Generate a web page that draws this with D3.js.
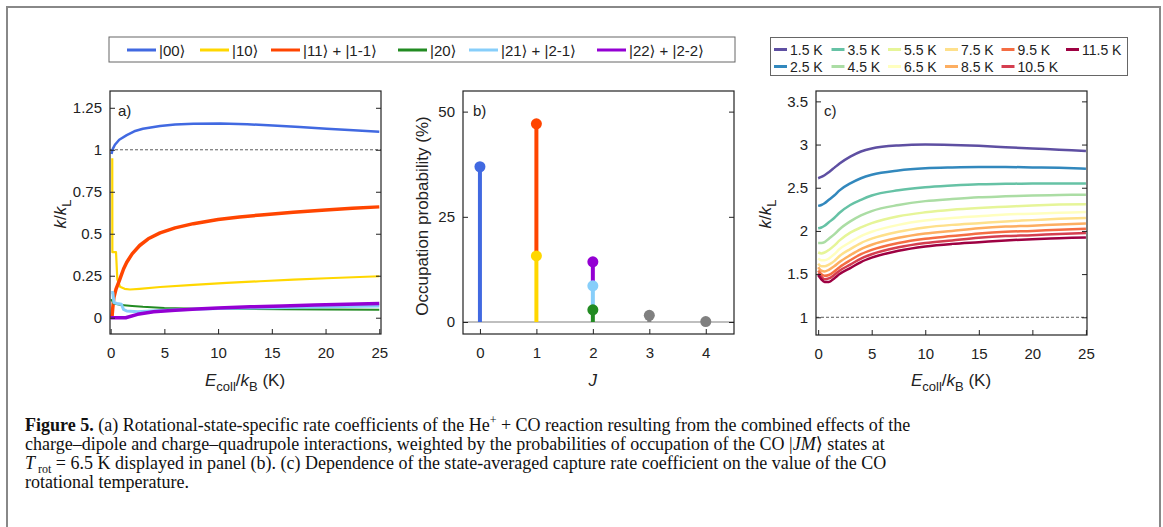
<!DOCTYPE html>
<html>
<head>
<meta charset="utf-8">
<script src="https://cdn.jsdelivr.net/npm/d3@7"></script>
<style>
  body { margin: 0; background: #fff; }
  svg text { font-family: "Liberation Sans", Arial, "DejaVu Sans", sans-serif; fill: #222; }
  .cap text { font-family: "Liberation Serif", "DejaVu Serif", serif; fill: #111; }
</style>
</head>
<body>
<svg id="fig" width="1163" height="527"></svg>
<script>
// ---- panel a: state-specific rate coefficients k/kL vs Ecoll/kB ----
var aStates = ['|00⟩', '|10⟩', '|11⟩ + |1-1⟩', '|20⟩', '|21⟩ + |2-1⟩', '|22⟩ + |2-2⟩'];
var aX00 = [0.08, 0.2, 0.4, 0.8, 1.5, 2.2, 3.0, 4.6, 6.0, 7.7, 10.2, 12.7, 15.1, 17.6, 20.1, 22.6, 25];
var aY00 = [0.975, 1.005, 1.03, 1.06, 1.087, 1.11, 1.125, 1.142, 1.15, 1.155, 1.156, 1.152, 1.145, 1.135, 1.125, 1.117, 1.108];
var aX10 = [0.15, 0.16, 0.5, 0.62, 0.87, 1.3, 1.8, 2.7, 4.6, 7.7, 10.8, 13.9, 17, 20.1, 25];
var aY10 = [0.95, 0.39, 0.39, 0.23, 0.185, 0.172, 0.168, 0.172, 0.183, 0.196, 0.207, 0.217, 0.227, 0.235, 0.247];
var aX11 = [0.12, 0.2, 0.3, 0.5, 0.8, 1.2, 1.5, 2.0, 2.7, 3.5, 4.6, 6.0, 7.7, 10, 12, 14, 17, 20, 22.5, 25];
var aY11 = [0, 0.06, 0.12, 0.17, 0.22, 0.29, 0.33, 0.38, 0.43, 0.47, 0.505, 0.535, 0.56, 0.585, 0.6, 0.612, 0.628, 0.642, 0.652, 0.66];
var aX20 = [0.05, 0.3, 1, 2, 3, 5, 8, 12, 16, 20, 25];
var aY20 = [0.11, 0.085, 0.075, 0.07, 0.065, 0.058, 0.054, 0.052, 0.05, 0.049, 0.048];
var aX21 = [0.05, 0.2, 0.3, 0.6, 1.0, 1.2, 1.5, 2.5, 5, 10, 15, 20, 25];
var aY21 = [0.15, 0.15, 0.09, 0.085, 0.08, 0.05, 0.04, 0.035, 0.045, 0.055, 0.06, 0.065, 0.07];
var aX22 = [0, 0.6, 1.4, 2.5, 4, 6, 8, 10, 13, 16, 19, 22, 25];
var aY22 = [0, 0, 0, 0.02, 0.035, 0.045, 0.052, 0.058, 0.065, 0.07, 0.075, 0.08, 0.085];
var aXTicks = [0, 5, 10, 15, 20, 25];
var aYTicks = [0, 0.25, 0.5, 0.75, 1, 1.25];

// ---- panel b: occupation probability (%) of |JM> states at 6.5 K, stacked per J ----
var bLabels = ['|00⟩', '|10⟩', '|11⟩ + |1-1⟩', '|20⟩', '|21⟩ + |2-1⟩', '|22⟩ + |2-2⟩', 'J=3', 'J=4'];
var bJ = [0, 1, 1, 2, 2, 2, 3, 4];
var bProb = [36.9, 15.7, 31.4, 2.9, 5.7, 5.7, 1.6, 0.1];
var bXTicks = [0, 1, 2, 3, 4];
var bYTicks = [0, 25, 50];

// ---- panel c: state-averaged k/kL for rotational temperatures ----
var cTemps = ['1.5 K', '2.5 K', '3.5 K', '4.5 K', '5.5 K', '6.5 K', '7.5 K', '8.5 K', '9.5 K', '10.5 K', '11.5 K'];
var cX = [0, 0.3, 0.6, 1, 1.5, 2, 3, 4, 5, 7.5, 10, 12.5, 15, 17.5, 20, 22.5, 25];
var cY15 = [2.61, 2.625, 2.645, 2.68, 2.73, 2.78, 2.86, 2.92, 2.955, 2.99, 3.0, 2.995, 2.985, 2.97, 2.955, 2.94, 2.925];
var cY25 = [2.29, 2.3, 2.32, 2.36, 2.41, 2.47, 2.55, 2.61, 2.65, 2.70, 2.725, 2.735, 2.74, 2.74, 2.735, 2.73, 2.72];
var cY35 = [2.03, 2.04, 2.06, 2.1, 2.15, 2.21, 2.3, 2.36, 2.41, 2.47, 2.505, 2.525, 2.54, 2.545, 2.55, 2.55, 2.55];
var cY45 = [1.86, 1.86, 1.87, 1.91, 1.96, 2.02, 2.11, 2.18, 2.23, 2.30, 2.345, 2.37, 2.39, 2.40, 2.41, 2.415, 2.42];
var cY55 = [1.75, 1.74, 1.75, 1.78, 1.83, 1.89, 1.98, 2.04, 2.09, 2.17, 2.215, 2.245, 2.265, 2.28, 2.295, 2.305, 2.31];
var cY65 = [1.68, 1.66, 1.66, 1.68, 1.73, 1.79, 1.87, 1.94, 1.99, 2.07, 2.12, 2.15, 2.17, 2.19, 2.20, 2.21, 2.22];
var cY75 = [1.62, 1.59, 1.59, 1.61, 1.65, 1.71, 1.79, 1.86, 1.91, 1.99, 2.04, 2.07, 2.09, 2.11, 2.125, 2.14, 2.15];
var cY85 = [1.58, 1.54, 1.53, 1.55, 1.59, 1.64, 1.72, 1.79, 1.84, 1.92, 1.97, 2.00, 2.03, 2.05, 2.06, 2.075, 2.085];
var cY95 = [1.54, 1.50, 1.48, 1.49, 1.53, 1.58, 1.66, 1.73, 1.78, 1.86, 1.91, 1.94, 1.97, 1.99, 2.00, 2.015, 2.025];
var cY105 = [1.51, 1.47, 1.44, 1.45, 1.49, 1.54, 1.61, 1.68, 1.73, 1.81, 1.86, 1.89, 1.92, 1.94, 1.95, 1.965, 1.975];
var cY115 = [1.49, 1.44, 1.41, 1.41, 1.45, 1.50, 1.57, 1.64, 1.69, 1.77, 1.82, 1.85, 1.87, 1.89, 1.905, 1.915, 1.925];
var cXTicks = [0, 5, 10, 15, 20, 25];
var cYTicks = [1, 1.5, 2, 2.5, 3, 3.5];

var stateColors = ['#4169e1', '#ffd700', '#ff4500', '#228b22', '#87cefa', '#9400d3', '#808080', '#808080'];
var stateWidths = [2.5, 2.2, 3.5, 2, 3, 3.5];
var tempColors = d3.schemeSpectral[11].slice().reverse();

var svg = d3.select('#fig');

// outer figure border (open at the bottom)
svg.append('path')
    .attr('d', 'M7,527 V7 H1160 V527')
    .attr('fill', 'none').attr('stroke', '#888').attr('stroke-width', 2);

// helper: frame + inward ticks
function frame(g, x, y, xt, yt, yfmt) {
    var r = x.range(), h = y.range();
    g.append('g').attr('transform', 'translate(0,' + h[0] + ')')
        .call(d3.axisBottom(x).tickValues(xt).tickSize(-5).tickPadding(13).tickFormat(d3.format('')))
        .call(function(s){ s.select('.domain').remove(); s.selectAll('text').style('font-size', '15px'); });
    g.append('g').attr('transform', 'translate(' + r[0] + ',0)')
        .call(d3.axisLeft(y).tickValues(yt).tickSize(-5).tickPadding(8).tickFormat(yfmt || d3.format('')))
        .call(function(s){ s.select('.domain').remove(); s.selectAll('text').style('font-size', '15px'); });
    g.append('g').attr('transform', 'translate(' + r[1] + ',0)')
        .call(d3.axisRight(y).tickValues(yt).tickSize(-5).tickFormat(''))
        .call(function(s){ s.select('.domain').remove(); });
    g.selectAll('.tick line').attr('stroke', '#222');
    g.append('rect')
        .attr('x', r[0]).attr('y', h[1])
        .attr('width', r[1] - r[0]).attr('height', h[0] - h[1])
        .attr('fill', 'none').attr('stroke', '#222').attr('stroke-width', 1.2);
}

function kLabel(g, cx, cy) {
    var t = g.append('text').attr('transform', 'translate(' + cx + ',' + cy + ') rotate(-90)')
        .attr('text-anchor', 'middle').style('font-size', '17px');
    t.append('tspan').attr('font-style', 'italic').text('k');
    t.append('tspan').text('/');
    t.append('tspan').attr('font-style', 'italic').text('k');
    t.append('tspan').attr('dy', 5).style('font-size', '13px').text('L');
}

function eLabel(g, cx, cy) {
    var t = g.append('text').attr('x', cx).attr('y', cy)
        .attr('text-anchor', 'middle').style('font-size', '17px');
    t.append('tspan').attr('font-style', 'italic').text('E');
    t.append('tspan').attr('dy', 5).style('font-size', '13px').text('coll');
    t.append('tspan').attr('dy', -5).text('/');
    t.append('tspan').attr('font-style', 'italic').text('k');
    t.append('tspan').attr('dy', 5).style('font-size', '13px').text('B');
    t.append('tspan').attr('dy', -5).text(' (K)');
}

// ================= panel a =================
var gA = svg.append('g');
var xA = d3.scaleLinear().domain([-0.06, 25.16]).range([110, 381]);
var yA = d3.scaleLinear().domain([-0.097, 1.35]).range([334, 91]);

gA.append('line')
    .attr('x1', xA.range()[0]).attr('x2', xA.range()[1])
    .attr('y1', yA(1)).attr('y2', yA(1))
    .attr('stroke', '#333').attr('stroke-width', 0.8).attr('stroke-dasharray', '3,2');

var aSeries = [[aX00, aY00], [aX10, aY10], [aX11, aY11], [aX20, aY20], [aX21, aY21], [aX22, aY22]];
var drawOrder = [1, 2, 3, 4, 5, 0];
var lineA = d3.line().x(function(d){ return xA(d[0]); }).y(function(d){ return yA(d[1]); });
drawOrder.forEach(function(i) {
    var pts = aSeries[i][0].map(function(x, j){ return [x, aSeries[i][1][j]]; });
    gA.append('path').datum(pts)
        .attr('d', lineA)
        .attr('fill', 'none')
        .attr('stroke', stateColors[i])
        .attr('stroke-width', stateWidths[i])
        .attr('stroke-linejoin', 'round');
});
frame(gA, xA, yA, aXTicks, aYTicks);
gA.append('text').attr('x', 118).attr('y', 116).style('font-size', '15px').text('a)');
kLabel(gA, 66, 214);
eLabel(gA, 245, 386);

// ================= panel b =================
var gB = svg.append('g');
var xB = d3.scaleLinear().domain([-0.3, 4.5]).range([463, 734]);
var yB = d3.scaleLinear().domain([-2.85, 54.9]).range([334, 91]);

gB.append('line')
    .attr('x1', xB.range()[0]).attr('x2', xB.range()[1])
    .attr('y1', yB(0)).attr('y2', yB(0))
    .attr('stroke', '#808080').attr('stroke-width', 1.2);

// stacked stems
var stackTop = {};
var segs = bProb.map(function(p, i) {
    var j = bJ[i];
    var lo = stackTop[j] || 0;
    stackTop[j] = lo + p;
    return {j: j, lo: lo, hi: lo + p, color: stateColors[i]};
});
gB.selectAll('.stem').data(segs).enter().append('line')
    .attr('class', 'stem')
    .attr('x1', function(d){ return xB(d.j); }).attr('x2', function(d){ return xB(d.j); })
    .attr('y1', function(d){ return yB(d.lo); }).attr('y2', function(d){ return yB(d.hi); })
    .attr('stroke', function(d){ return d.color; }).attr('stroke-width', 4);
gB.selectAll('.dot').data(segs).enter().append('circle')
    .attr('class', 'dot')
    .attr('cx', function(d){ return xB(d.j); })
    .attr('cy', function(d){ return yB(d.hi); })
    .attr('r', 5.5)
    .attr('fill', function(d){ return d.color; });
frame(gB, xB, yB, bXTicks, bYTicks);
gB.append('text').attr('x', 473).attr('y', 116).style('font-size', '15px').text('b)');
gB.append('text').attr('transform', 'translate(428,216) rotate(-90)')
    .attr('text-anchor', 'middle').style('font-size', '17px').text('Occupation probability (%)');
gB.append('text').attr('x', xB(2)).attr('y', 386).attr('text-anchor', 'middle')
    .attr('font-style', 'italic').style('font-size', '17px').text('J');

// ================= panel c =================
var gC = svg.append('g');
var xC = d3.scaleLinear().domain([-0.2, 25.1]).range([816, 1087]);
var yC = d3.scaleLinear().domain([0.795, 3.62]).range([335, 91]);

gC.append('line')
    .attr('x1', xC.range()[0]).attr('x2', xC.range()[1])
    .attr('y1', yC(1)).attr('y2', yC(1))
    .attr('stroke', '#333').attr('stroke-width', 0.8).attr('stroke-dasharray', '3,2');

var cSeries = [cY15, cY25, cY35, cY45, cY55, cY65, cY75, cY85, cY95, cY105, cY115];
var lineC = d3.line().curve(d3.curveMonotoneX)
    .x(function(d){ return xC(d[0]); }).y(function(d){ return yC(d[1]); });
cSeries.forEach(function(ys, i) {
    gC.append('path').datum(cX.map(function(x, j){ return [x, ys[j]]; }))
        .attr('d', lineC)
        .attr('fill', 'none')
        .attr('stroke', tempColors[i])
        .attr('stroke-width', 2.5);
});
frame(gC, xC, yC, cXTicks, cYTicks);
gC.append('text').attr('x', 824).attr('y', 116).style('font-size', '15px').text('c)');
kLabel(gC, 771, 214);
eLabel(gC, 951, 386);

// ================= legends =================
var legA = svg.append('g');
legA.append('rect').attr('x', 109).attr('y', 37).attr('width', 626).attr('height', 25)
    .attr('fill', '#fff').attr('stroke', '#666').attr('stroke-width', 1);
var legAX = [127, 200, 271, 398, 469, 597];
aStates.forEach(function(s, i) {
    legA.append('line').attr('x1', legAX[i]).attr('x2', legAX[i] + 29)
        .attr('y1', 50).attr('y2', 50)
        .attr('stroke', stateColors[i]).attr('stroke-width', 3);
    legA.append('text').attr('x', legAX[i] + 32).attr('y', 55.5)
        .style('font-size', '15px').text(s);
});

var legC = svg.append('g');
legC.append('rect').attr('x', 770.5).attr('y', 37.5).attr('width', 357).attr('height', 38)
    .attr('fill', '#fff').attr('stroke', '#666').attr('stroke-width', 1);
var legCX = [774, 831.5, 888, 945, 1001.5, 1066];
cTemps.forEach(function(s, i) {
    var col = Math.floor(i / 2), row = i % 2;
    var yy = row ? 66.5 : 49.5;
    legC.append('line').attr('x1', legCX[col]).attr('x2', legCX[col] + 13)
        .attr('y1', yy).attr('y2', yy)
        .attr('stroke', tempColors[i]).attr('stroke-width', 3);
    legC.append('text').attr('x', legCX[col] + 16).attr('y', yy + 5)
        .style('font-size', '14px').text(s);
});

// ================= caption =================
var cap = svg.append('g').attr('class', 'cap');
var capX = 25, capY = [431, 450, 469, 488];
function capLine(k) {
    return cap.append('text').attr('x', capX).attr('y', capY[k]).style('font-size', '18px');
}
var l1 = capLine(0);
l1.append('tspan').attr('font-weight', 'bold').text('Figure 5.');
l1.append('tspan').text('  (a) Rotational-state-specific rate coefficients of the He');
l1.append('tspan').attr('dy', -7).style('font-size', '12px').text('+');
l1.append('tspan').attr('dy', 7).text(' + CO reaction resulting from the combined effects of the');
var l2 = capLine(1);
l2.append('tspan').text('charge–dipole and charge–quadrupole interactions, weighted by the probabilities of occupation of the CO |');
l2.append('tspan').attr('font-style', 'italic').text('JM');
l2.append('tspan').text('⟩ states at');
var l3 = capLine(2);
l3.append('tspan').attr('font-style', 'italic').text('T');
l3.append('tspan').attr('dy', 4).attr('dx', 3).style('font-size', '12px').text('rot');
l3.append('tspan').attr('dy', -4).text(' = 6.5 K displayed in panel (b). (c) Dependence of the state-averaged capture rate coefficient on the value of the CO');
capLine(3).text('rotational temperature.');
</script>
</body>
</html>
